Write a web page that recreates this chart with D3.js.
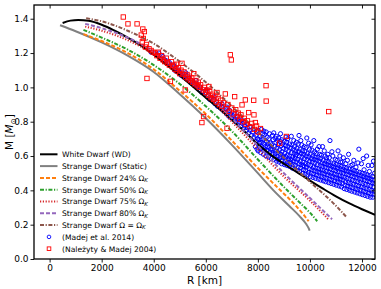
<!DOCTYPE html>
<html><head><meta charset="utf-8">
<script src="https://cdn.jsdelivr.net/npm/d3@7"></script>
<style>
html,body{margin:0;padding:0;background:#fff;}
svg{display:block;font-family:"DejaVu Sans",sans-serif;}
</style></head>
<body><svg id="c" width="381" height="289"></svg>
<script>
// ---- data (R in km, M in solar masses) ----
const xTicks = [0, 2000, 4000, 6000, 8000, 10000, 12000];
const yTicks = [0.0, 0.2, 0.4, 0.6, 0.8, 1.0, 1.2, 1.4];

const whiteDwarf = [[500,1.375],[800,1.389],[1100,1.393],[1500,1.388],[2000,1.365],[2500,1.33],[3000,1.29],[3500,1.245],[4000,1.19],[4500,1.13],[5000,1.07],[5500,1.005],[6000,0.94],[6500,0.877],[7000,0.812],[7500,0.742],[8000,0.668],[8500,0.607],[9000,0.555],[9500,0.506],[10000,0.457],[10500,0.41],[11000,0.365],[11500,0.325],[12000,0.29],[12500,0.258]];
const sdStatic = [[400,1.362],[1000,1.327],[2000,1.262],[3000,1.185],[4000,1.09],[5000,0.96],[6000,0.82],[7000,0.665],[8000,0.5],[8600,0.4],[9200,0.31],[9600,0.25],[9850,0.205],[9950,0.18],[9990,0.165]];
const sd24 = [[1300,1.31],[2000,1.27],[3000,1.2],[4000,1.105],[5000,0.98],[6000,0.845],[7000,0.69],[8000,0.53],[8800,0.41],[9400,0.32],[9800,0.25],[9950,0.22]];
const sd50 = [[1300,1.335],[2000,1.29],[3000,1.22],[4000,1.13],[5000,1.02],[6000,0.89],[7000,0.745],[8000,0.58],[9000,0.42],[9600,0.33],[10000,0.27],[10280,0.22]];
const sd75 = [[1365,1.354],[2000,1.33],[3000,1.275],[4000,1.195],[5000,1.09],[6000,0.96],[7000,0.8],[8000,0.64],[9000,0.48],[10000,0.34],[10720,0.229]];
const sd80 = [[1365,1.37],[2000,1.345],[3000,1.29],[4000,1.21],[5000,1.105],[6000,0.975],[7000,0.82],[8000,0.66],[9000,0.5],[10000,0.355],[10850,0.232]];
const sdKepler = [[1404,1.403],[2000,1.385],[3000,1.33],[4000,1.255],[5000,1.15],[6000,1.03],[7000,0.89],[8000,0.74],[9000,0.59],[10000,0.45],[11000,0.31],[11400,0.245]];

const madej2014 = [
[3900,1.205],[4050,1.195],[4150,1.19],[4200,1.2],[4300,1.17],[4350,1.18],[4420,1.16],[4480,1.155],[4550,1.14],[4600,1.145],[4650,1.13],[4700,1.12],[4760,1.13],[4800,1.1],[4850,1.11],[4910,1.09],[4950,1.1],[5010,1.085],[5050,1.07],[5100,1.08],[5150,1.06],[5190,1.075],[5250,1.05],[5300,1.045],[5340,1.06],[5400,1.03],[5450,1.025],[5500,1.035],[5560,1.01],[5600,1.02],[5640,1.0],[5700,0.995],[5760,0.985],[5800,1.0],[5850,0.97],[5900,0.975],[5960,0.96],[6000,0.97],[6060,0.945],[6100,0.955],[6150,0.93],[6200,0.94],[6260,0.92],[6300,0.93],[6350,0.905],[6400,0.915],[6450,0.89],[6500,0.9],[6560,0.88],[6600,0.89],[6640,0.87],[6700,0.86],[6760,0.875],[6800,0.845],[6850,0.86],[6900,0.83],[6960,0.845],[7000,0.82],[7050,0.835],[7100,0.81],[7160,0.8],[7200,0.815],[7250,0.79],[7300,0.8],[7350,0.775],[7400,0.79],[7450,0.76],[7500,0.775],[7560,0.75],[7600,0.765],[7650,0.735],[7700,0.75],[7750,0.72],[7800,0.74],[7850,0.71],
[5230,1.085],[5620,1.04],[6020,0.985],[6320,0.945],[6620,0.905],[6920,0.865],[7220,0.83],[7480,0.795],[7690,0.77],[6810,0.885],[7120,0.845],[7380,0.81],[7610,0.785],
[7905,0.655],[7940,0.685],[7925,0.72],[7970,0.64],[7950,0.745],[7990,0.70],
[8010,0.63],[8045,0.66],[8030,0.695],[8080,0.715],[8005,0.75],[8065,0.675],[8095,0.645],
[8110,0.62],[8150,0.655],[8175,0.64],[8125,0.70],[8190,0.73],[8160,0.68],[8140,0.755],
[8215,0.61],[8255,0.64],[8240,0.67],[8280,0.655],[8205,0.695],[8265,0.725],[8230,0.745],
[8310,0.60],[8345,0.63],[8370,0.655],[8330,0.685],[8390,0.67],[8355,0.71],[8320,0.74],
[8410,0.595],[8460,0.62],[8435,0.65],[8480,0.675],[8420,0.70],[8495,0.64],[8445,0.73],
[8515,0.585],[8550,0.61],[8575,0.64],[8530,0.665],[8590,0.695],[8560,0.72],[8505,0.64],
[8615,0.58],[8650,0.60],[8680,0.63],[8635,0.655],[8695,0.68],[8660,0.705],[8610,0.735],[8670,0.615],
[8720,0.57],[8745,0.595],[8770,0.62],[8730,0.645],[8790,0.665],[8755,0.69],[8705,0.715],[8780,0.58],
[8815,0.565],[8850,0.59],[8880,0.61],[8830,0.635],[8895,0.66],[8860,0.685],[8805,0.705],[8870,0.73],
[8915,0.555],[8940,0.575],[8975,0.60],[8925,0.625],[8990,0.645],[8950,0.67],[8910,0.695],[8965,0.59],
[9020,0.55],[9050,0.57],[9075,0.595],[9035,0.615],[9090,0.64],[9060,0.66],[9010,0.685],[9080,0.71],
[9115,0.545],[9140,0.565],[9170,0.585],[9130,0.605],[9190,0.63],[9155,0.655],[9105,0.68],[9180,0.575],[9145,0.70],
[9210,0.54],[9245,0.555],[9275,0.58],[9230,0.60],[9290,0.62],[9260,0.645],[9220,0.67],[9285,0.715],[9250,0.565],
[9320,0.53],[9350,0.55],[9375,0.57],[9335,0.595],[9395,0.615],[9360,0.64],[9310,0.665],[9380,0.69],
[9415,0.525],[9440,0.545],[9470,0.565],[9430,0.585],[9490,0.61],[9455,0.63],[9405,0.655],[9480,0.68],[9445,0.60],
[9520,0.515],[9545,0.535],[9575,0.555],[9535,0.58],[9590,0.60],[9560,0.625],[9505,0.645],[9580,0.72],[9550,0.67],
[9610,0.51],[9645,0.53],[9670,0.55],[9630,0.57],[9695,0.595],[9660,0.615],[9620,0.64],[9685,0.665],[9650,0.69],
[9720,0.50],[9750,0.52],[9775,0.54],[9735,0.565],[9790,0.585],[9760,0.61],[9710,0.63],[9780,0.655],[9745,0.545],
[9815,0.495],[9840,0.515],[9870,0.535],[9830,0.555],[9895,0.58],[9855,0.60],[9805,0.625],[9880,0.705],[9860,0.65],
[9920,0.49],[9945,0.505],[9975,0.525],[9935,0.55],[9990,0.57],[9960,0.595],[9910,0.615],[9980,0.64],[9950,0.675],
[10015,0.48],[10050,0.50],[10075,0.52],[10030,0.545],[10090,0.565],[10060,0.585],[10010,0.61],[10080,0.635],[10045,0.665],
[10120,0.475],[10145,0.495],[10170,0.515],[10135,0.535],[10195,0.56],[10160,0.58],[10110,0.60],[10180,0.625],[10150,0.69],
[10215,0.47],[10250,0.49],[10275,0.51],[10230,0.53],[10290,0.55],[10260,0.575],[10205,0.595],[10285,0.64],[10240,0.615],
[10320,0.465],[10345,0.485],[10370,0.505],[10335,0.525],[10395,0.545],[10355,0.57],[10310,0.59],[10380,0.61],[10350,0.655],
[10415,0.46],[10450,0.48],[10475,0.50],[10430,0.52],[10490,0.54],[10460,0.56],[10405,0.585],[10485,0.655],[10440,0.605],
[10520,0.455],[10545,0.475],[10570,0.495],[10535,0.515],[10590,0.535],[10560,0.555],[10510,0.575],[10580,0.60],[10550,0.63],
[10610,0.45],[10645,0.47],[10670,0.49],[10630,0.51],[10695,0.53],[10655,0.55],[10620,0.57],[10685,0.61],[10640,0.59],
[10720,0.445],[10750,0.465],[10775,0.485],[10735,0.505],[10790,0.525],[10760,0.545],[10710,0.565],[10770,0.69],[10745,0.59],
[10815,0.44],[10840,0.46],[10870,0.48],[10830,0.50],[10895,0.52],[10855,0.54],[10805,0.56],[10880,0.60],[10845,0.625],
[10920,0.435],[10945,0.455],[10975,0.475],[10935,0.495],[10990,0.515],[10960,0.535],[10910,0.555],[10980,0.58],
[11015,0.43],[11050,0.45],[11075,0.47],[11030,0.49],[11090,0.51],[11060,0.53],[11010,0.55],[11080,0.63],[11045,0.575],
[11120,0.425],[11145,0.445],[11170,0.465],[11135,0.485],[11195,0.505],[11160,0.525],[11110,0.545],[11180,0.565],[11150,0.60],
[11215,0.42],[11250,0.44],[11275,0.46],[11230,0.48],[11290,0.50],[11260,0.52],[11205,0.54],[11285,0.59],[11240,0.565],
[11320,0.41],[11345,0.43],[11370,0.45],[11335,0.475],[11395,0.495],[11355,0.515],[11310,0.535],[11380,0.555],
[11415,0.405],[11450,0.425],[11475,0.445],[11430,0.47],[11490,0.49],[11460,0.51],[11405,0.53],[11485,0.61],[11440,0.575],
[11520,0.40],[11545,0.42],[11570,0.44],[11535,0.465],[11590,0.485],[11560,0.505],[11510,0.525],[11580,0.545],
[11610,0.395],[11645,0.415],[11670,0.435],[11630,0.46],[11695,0.48],[11655,0.50],[11620,0.52],[11685,0.575],[11640,0.55],
[11720,0.39],[11750,0.41],[11775,0.43],[11735,0.455],[11790,0.475],[11760,0.495],[11710,0.515],[11770,0.535],
[11815,0.385],[11840,0.405],[11870,0.425],[11830,0.45],[11895,0.47],[11855,0.49],[11805,0.51],[11880,0.64],[11845,0.56],
[11920,0.38],[11945,0.40],[11975,0.42],[11935,0.445],[11990,0.465],[11960,0.485],[11910,0.505],[11980,0.555],
[12015,0.375],[12050,0.395],[12075,0.415],[12030,0.44],[12090,0.46],[12060,0.48],[12010,0.50],[12080,0.52],[12045,0.585],
[12120,0.37],[12145,0.39],[12170,0.41],[12135,0.435],[12195,0.455],[12160,0.475],[12110,0.495],[12180,0.60],
[12215,0.365],[12250,0.385],[12275,0.405],[12230,0.43],[12290,0.45],[12260,0.47],[12205,0.49],[12285,0.51],[12240,0.545],
[12320,0.36],[12345,0.38],[12370,0.40],[12335,0.425],[12395,0.445],[12355,0.465],[12310,0.485],[12380,0.545],
[12415,0.36],[12450,0.375],[12475,0.395],[12430,0.42],[12490,0.44],[12460,0.46],[12405,0.48],[12485,0.50],[12440,0.57]
];

const nalezyty2004 = [
[2830,1.41],[3010,1.37],[3360,1.37],[3580,1.34],[3640,1.325],[3520,1.305],[3600,1.285],[3560,1.265],[3720,1.25],[3680,1.235],[3820,1.225],[3900,1.215],[3740,1.052],[3980,1.205],[4060,1.2],[4120,1.185],[4180,1.205],[4240,1.17],[4300,1.185],[4360,1.16],[4420,1.15],[4480,1.17],[4530,1.14],[4600,1.13],[4640,1.035],[4680,1.15],[4720,1.12],[4780,1.13],[4820,1.105],[4870,1.135],[4900,1.095],[4950,1.115],[5000,1.08],[5050,1.1],[5085,1.14],[5120,1.075],[5160,1.09],[5210,0.985],[5230,1.06],[5280,1.075],[5320,1.05],[5370,1.065],[5410,1.04],[5460,1.055],[5500,1.03],[5540,1.08],[5580,1.02],[5620,1.04],[5670,1.01],[5710,1.03],[5750,1.0],[5800,1.015],[5850,0.795],[5900,0.985],[5915,0.83],[5950,1.0],[6000,0.97],[6050,0.985],[6100,0.955],[6120,1.005],[6150,0.975],[6200,0.94],[6250,0.96],[6300,0.93],[6350,0.95],[6400,0.915],[6430,0.97],[6470,0.935],[6520,0.9],[6570,0.925],[6620,0.89],[6680,0.91],[6750,0.962],[6780,0.875],[6815,0.762],[6850,0.9],[6900,0.86],[6942,1.19],[6981,1.16],[7000,0.88],[7050,0.845],[7108,0.946],[7150,0.87],[7200,0.83],[7250,0.85],[7300,0.815],[7350,0.84],[7392,0.898],[7420,0.8],[7480,0.82],[7519,0.927],[7550,0.785],[7600,0.805],[7646,0.853],[7700,0.77],[7760,0.79],[7840,0.925],[7850,0.84],[7870,0.755],[7904,0.795],[7950,0.775],[8000,0.74],[8100,0.76],[8315,1.01],[8320,0.92],[8838,0.675],[9096,0.714],[10723,0.859]
];

const legendLabels = ["White Dwarf (WD)", "Strange Dwarf (Static)", "Strange Dwarf 24% ", "Strange Dwarf 50% ", "Strange Dwarf 75% ", "Strange Dwarf 80% ", "Strange Dwarf ", "(Madej et al. 2014)", "(Należyty & Madej 2004)"];

// ---- layout ----
const svg = d3.select("#c");
const L = 34, R = 375, T = 5, B = 259;
const x = d3.scaleLinear().domain([-600, 12500]).range([L, R]);
const y = d3.scaleLinear().domain([0, 1.48]).range([B, T]);

svg.append("defs").append("clipPath").attr("id","clip")
  .append("rect").attr("x",L).attr("y",T).attr("width",R-L).attr("height",B-T);

const plot = svg.append("g").attr("clip-path","url(#clip)");

// blue scatter
plot.append("g").selectAll("circle").data(madej2014).join("circle")
  .attr("cx", d => x(d[0])).attr("cy", d => y(d[1])).attr("r", 2.1)
  .attr("fill","none").attr("stroke","#0000ff").attr("stroke-width",1);

const styles = [
  {data: whiteDwarf, color:"#000000", dash:null, w:2},
  {data: sdStatic, color:"#808080", dash:null, w:2},
  {data: sd24, color:"#ff7f0e", dash:"4,2", w:2},
  {data: sd50, color:"#2ca02c", dash:"4,1.6,1.2,1.6", w:2},
  {data: sd75, color:"#d62728", dash:"1.2,1.6", w:2},
  {data: sd80, color:"#9467bd", dash:"4,2", w:2},
  {data: sdKepler, color:"#8c564b", dash:"4,1.6,1.2,1.6", w:2}
];
const line = d3.line().x(d => x(d[0])).y(d => y(d[1])).curve(d3.curveMonotoneX);
styles.forEach(s => {
  plot.append("path").datum(s.data).attr("d", line)
    .attr("fill","none").attr("stroke", s.color).attr("stroke-width", s.w)
    .attr("stroke-dasharray", s.dash);
});

// red squares
const sq = 4.4;
plot.append("g").selectAll("rect").data(nalezyty2004).join("rect")
  .attr("x", d => x(d[0]) - sq/2).attr("y", d => y(d[1]) - sq/2)
  .attr("width", sq).attr("height", sq)
  .attr("fill","none").attr("stroke","#ff0000").attr("stroke-width",0.9);

// axes
const ax = svg.append("g");
const xb = ax.append("g").attr("transform",`translate(0,${B})`)
  .call(d3.axisBottom(x).tickValues(xTicks).tickSize(3.5).tickPadding(2).tickFormat(d3.format("d")));
const yl = ax.append("g").attr("transform",`translate(${L},0)`)
  .call(d3.axisLeft(y).tickValues(yTicks).tickSize(3.5).tickPadding(2).tickFormat(d3.format(".1f")));
const xt = ax.append("g").attr("transform",`translate(0,${T})`)
  .call(d3.axisBottom(x).tickValues(xTicks).tickSize(3.5).tickFormat(""));
const yr = ax.append("g").attr("transform",`translate(${R},0)`)
  .call(d3.axisLeft(y).tickValues(yTicks).tickSize(3.5).tickFormat(""));
[xb,yl,xt,yr].forEach(g => {
  g.select(".domain").remove();
  g.selectAll("line").attr("stroke","#000").attr("stroke-width",0.9);
  g.selectAll("text").attr("font-size","9px").attr("fill","#000").attr("font-family","DejaVu Sans");
});
svg.append("rect").attr("x",L).attr("y",T).attr("width",R-L).attr("height",B-T)
  .attr("fill","none").attr("stroke","#000").attr("stroke-width",1.3);

// axis labels
svg.append("text").attr("x",(L+R)/2).attr("y",284).attr("text-anchor","middle")
  .attr("font-size","10.5px").attr("font-family","DejaVu Sans").text("R [km]");
const yt = svg.append("text").attr("transform",`translate(13,${(T+B)/2}) rotate(-90)`)
  .attr("text-anchor","middle").attr("font-size","10.5px").attr("font-family","DejaVu Sans");
yt.append("tspan").text("M [");
yt.append("tspan").attr("font-style","italic").text("M");
yt.append("tspan").attr("font-size","7.5px").attr("dy","2.5").text("⊙");
yt.append("tspan").attr("dy","-2.5").text("]");

// legend
const lg = svg.append("g");
const ly0 = 154.3, ldy = 11.8;
styles.forEach((s,i) => {
  const yy = ly0 + i*ldy;
  lg.append("line").attr("x1",40).attr("x2",57.5).attr("y1",yy).attr("y2",yy)
    .attr("stroke", s.color).attr("stroke-width", s.w).attr("stroke-dasharray", s.dash);
});
lg.append("circle").attr("cx",49).attr("cy",ly0+7*ldy).attr("r",1.8)
  .attr("fill","none").attr("stroke","#0000ff").attr("stroke-width",0.9);
lg.append("rect").attr("x",47.2).attr("y",ly0+8*ldy-1.8).attr("width",3.6).attr("height",3.6)
  .attr("fill","none").attr("stroke","#ff0000").attr("stroke-width",0.9);
legendLabels.forEach((t,i) => {
  const tx = lg.append("text").attr("x",62).attr("y",ly0+i*ldy+2.8)
    .attr("font-size","7.6px").attr("font-family","DejaVu Sans").attr("fill","#000");
  tx.append("tspan").text(t);
  if (i >= 2 && i <= 6) {
    if (i === 6) { tx.append("tspan").text("Ω = Ω"); }
    else { tx.append("tspan").text("Ω"); }
    tx.append("tspan").attr("font-style","italic").attr("font-size","5.5px").attr("dy","1.5").text("K");
  }
});
</script></body></html>
